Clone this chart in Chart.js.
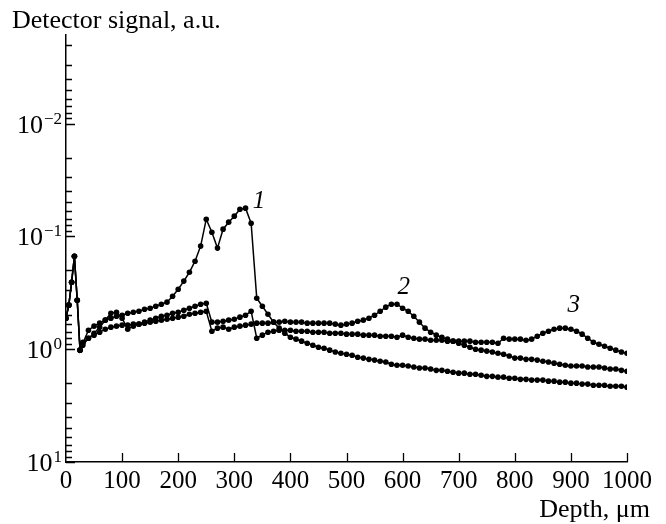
<!DOCTYPE html>
<html>
<head>
<meta charset="utf-8">
<script src="https://cdn.jsdelivr.net/npm/chart.js@4"></script>
<style>
  html, body { margin: 0; padding: 0; background: #fff; }
  canvas { display: block; }
</style>
</head>
<body>
<canvas id="chart" width="666" height="524"></canvas>
<script>
// Detector signal vs depth, three profiles, reversed log axis

const depth = [0, 5, 10, 15, 20, 25,
  30, 40, 50, 60, 70, 80, 90, 100, 110, 120, 130, 140, 150, 160, 170, 180, 190, 200,
  210, 220, 230, 240, 250, 260, 270, 280, 290, 300, 310, 320, 330, 340, 350, 360, 370,
  380, 390, 400, 410, 420, 430, 440, 450, 460, 470, 480, 490, 500, 510, 520, 530, 540,
  550, 560, 570, 580, 590, 600, 610, 620, 630, 640, 650, 660, 670, 680, 690, 700, 710,
  720, 730, 740, 750, 760, 770, 780, 790, 800, 810, 820, 830, 840, 850, 860, 870, 880,
  890, 900, 910, 920, 930, 940, 950, 960, 970, 980, 990, 1000];

const signal1 = [0.531, 0.407, 0.255, 0.150, 0.368, 1.02,
  0.885, 0.679, 0.625, 0.588, 0.553, 0.531, 0.510, 0.500, 0.480, 0.470, 0.461, 0.442, 0.433, 0.416, 0.399, 0.383, 0.339, 0.294,
  0.249, 0.208, 0.166, 0.122, 0.0704, 0.0918, 0.127, 0.0863, 0.0748, 0.0662, 0.0574, 0.0562, 0.0764, 0.353, 0.416, 0.490, 0.576,
  0.651, 0.722, 0.783, 0.815, 0.849, 0.885, 0.922, 0.960, 0.980, 1.02, 1.06, 1.085, 1.11, 1.13, 1.18, 1.20, 1.23,
  1.25, 1.28, 1.30, 1.36, 1.39, 1.39, 1.41, 1.44, 1.47, 1.47, 1.50, 1.54, 1.54, 1.57, 1.60, 1.63, 1.63,
  1.67, 1.67, 1.70, 1.74, 1.74, 1.77, 1.77, 1.81, 1.81, 1.85, 1.85, 1.88, 1.88, 1.88, 1.92, 1.92, 1.96,
  1.96, 2.00, 2.00, 2.04, 2.04, 2.09, 2.09, 2.09, 2.13, 2.13, 2.13, 2.17];

const signal2 = [0.531, 0.407, 0.255, 0.150, 0.368, 1.02,
  0.867, 0.799, 0.751, 0.707, 0.665, 0.638, 0.625, 0.612, 0.612, 0.600, 0.600, 0.588, 0.576, 0.565, 0.553, 0.542, 0.531, 0.520,
  0.510, 0.490, 0.480, 0.470, 0.461, 0.693, 0.651, 0.638, 0.665, 0.638, 0.625, 0.612, 0.600, 0.588, 0.588, 0.588, 0.576,
  0.576, 0.565, 0.576, 0.576, 0.576, 0.588, 0.588, 0.588, 0.588, 0.588, 0.600, 0.612, 0.600, 0.588, 0.565, 0.553, 0.531,
  0.500, 0.461, 0.424, 0.399, 0.399, 0.433, 0.461, 0.510, 0.576, 0.651, 0.707, 0.751, 0.783, 0.815, 0.849, 0.885, 0.922,
  0.960, 1.00, 1.02, 1.04, 1.06, 1.085, 1.11, 1.15, 1.20, 1.20, 1.23, 1.23, 1.25, 1.28, 1.30, 1.33, 1.36,
  1.39, 1.41, 1.41, 1.41, 1.44, 1.44, 1.44, 1.47, 1.50, 1.50, 1.54, 1.57];

const signal3 = [0.531, 0.407, 0.255, 0.150, 0.368, 1.02,
  0.922, 0.799, 0.722, 0.638, 0.553, 0.480, 0.470, 0.531, 0.665, 0.625, 0.600, 0.576, 0.553, 0.531, 0.510, 0.500, 0.480, 0.470,
  0.451, 0.433, 0.416, 0.399, 0.391, 0.576, 0.576, 0.565, 0.553, 0.542, 0.520, 0.500, 0.461, 0.799, 0.751, 0.707, 0.693,
  0.679, 0.679, 0.679, 0.693, 0.693, 0.693, 0.707, 0.707, 0.707, 0.722, 0.722, 0.722, 0.736, 0.736, 0.736, 0.751, 0.751,
  0.751, 0.767, 0.767, 0.767, 0.783, 0.751, 0.783, 0.799, 0.815, 0.815, 0.832, 0.832, 0.832, 0.849, 0.849, 0.849, 0.849,
  0.849, 0.867, 0.867, 0.867, 0.867, 0.885, 0.799, 0.815, 0.815, 0.815, 0.832, 0.815, 0.767, 0.722, 0.693, 0.665, 0.651,
  0.651, 0.665, 0.693, 0.736, 0.799, 0.867, 0.903, 0.941, 0.980, 1.02, 1.06, 1.085];

// curve numbers and where they sit (depth, signal)
const curveNames = ['1', '2', '3'];
const nameDepth = [344, 602, 905];
const nameSignal = [0.0488, 0.282, 0.407];

// axes
const xTicks = [0, 100, 200, 300, 400, 500, 600, 700, 800, 900, 1000];
const yMajor = [0.01, 0.1, 1, 10];
const yBase = ['10', '10', '10', '10'];
const yExp = ['\u22122', '\u22121', '0', '1'];
const yMin = 0.00164, yMax = 10;
const yMinor = [];
[0.001, 0.01, 0.1, 1].forEach(d => {
    for (let k = 2; k <= 9; k++) {
        const v = k * d;
        if (v >= yMin && v <= yMax) yMinor.push(v);
    }
});

const serif = '"Liberation Serif", "Times New Roman", serif';

const toPoints = vals => depth.map((d, i) => ({ x: d, y: vals[i] }));
const lineStyle = {
    borderColor: '#000', backgroundColor: '#000', borderWidth: 1.5,
    pointRadius: 2.8, pointBorderWidth: 0, pointBackgroundColor: '#000',
    tension: 0, fill: false,
};

const axisMarks = {
    id: 'axisMarks',
    afterDraw(chart) {
        const ctx = chart.ctx;
        const xs = chart.scales.x, ys = chart.scales.y;
        const left = xs.left, bottom = ys.bottom;
        ctx.save();
        ctx.strokeStyle = '#000';
        ctx.lineWidth = 1.3;
        ctx.beginPath();
        // inward ticks on x
        xTicks.forEach(v => {
            if (v === 0) return;
            const px = Math.round(xs.getPixelForValue(v)) + 0.5;
            ctx.moveTo(px, bottom);
            ctx.lineTo(px, bottom - 9);
        });
        // inward ticks on y
        yMinor.forEach(v => {
            const py = Math.round(ys.getPixelForValue(v)) + 0.5;
            ctx.moveTo(left, py);
            ctx.lineTo(left + 6, py);
        });
        yMajor.forEach(v => {
            const py = Math.round(ys.getPixelForValue(v)) + 0.5;
            ctx.moveTo(left, py);
            ctx.lineTo(left + 9, py);
        });
        ctx.stroke();

        // y labels with exponent
        ctx.fillStyle = '#000';
        ctx.textBaseline = 'alphabetic';
        yMajor.forEach((v, i) => {
            const py = ys.getPixelForValue(v);
            ctx.font = '17px ' + serif;
            ctx.textAlign = 'right';
            const expW = ctx.measureText(yExp[i]).width;
            ctx.fillText(yExp[i], left - 4, py);
            ctx.font = '26px ' + serif;
            ctx.fillText(yBase[i], left - 4 - expW - 1, py + 9);
        });

        // axis titles
        ctx.font = '26px ' + serif;
        ctx.textAlign = 'left';
        ctx.fillText('Detector signal, a.u.', 12, 28);
        ctx.textAlign = 'right';
        ctx.fillText('Depth, \u03bcm', 650, 517);

        // curve numbers
        ctx.font = 'italic 25px ' + serif;
        ctx.textAlign = 'center';
        ctx.textBaseline = 'middle';
        curveNames.forEach((n, i) => {
            ctx.fillText(n, xs.getPixelForValue(nameDepth[i]), ys.getPixelForValue(nameSignal[i]));
        });
        ctx.restore();
    }
};

new Chart(document.getElementById('chart'), {
    type: 'line',
    data: {
        datasets: [
            { label: '1', data: toPoints(signal1), ...lineStyle },
            { label: '2', data: toPoints(signal2), ...lineStyle },
            { label: '3', data: toPoints(signal3), ...lineStyle },
        ]
    },
    options: {
        responsive: false,
        animation: false,
        layout: { padding: { top: 35, right: 39, left: 0, bottom: 0 } },
        plugins: { legend: { display: false }, tooltip: { enabled: false } },
        scales: {
            x: {
                type: 'linear', min: 0, max: 1000,
                grid: { display: false, drawTicks: false, tickLength: 0 },
                border: { display: true, color: '#000', width: 1.5 },
                afterBuildTicks: s => { s.ticks = xTicks.map(v => ({ value: v })); },
                ticks: {
                    color: '#000', padding: 4, maxRotation: 0, autoSkip: false,
                    font: { family: serif, size: 25 },
                    callback: v => String(v),
                },
                afterFit: s => { s.height = 62; },
            },
            y: {
                type: 'logarithmic', reverse: true, min: yMin, max: yMax,
                grid: { display: false, drawTicks: false, tickLength: 0 },
                border: { display: true, color: '#000', width: 1.5 },
                ticks: { display: false },
                afterFit: s => { s.width = 66; },
            }
        }
    },
    plugins: [axisMarks]
});
</script>
</body>
</html>
